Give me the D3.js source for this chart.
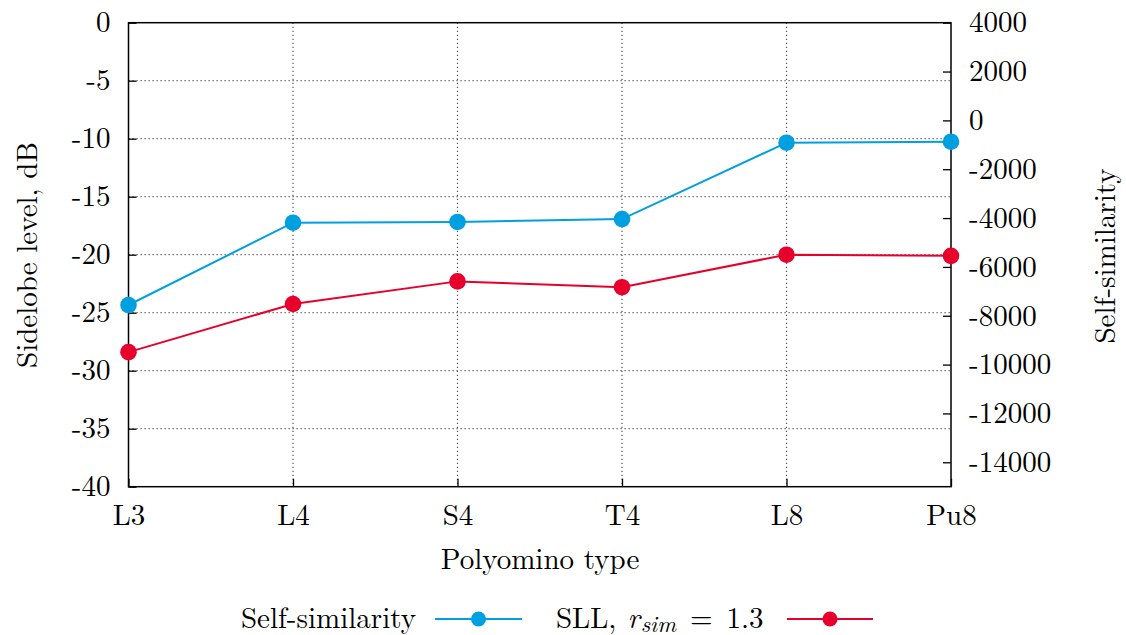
<!DOCTYPE html>
<html>
<head>
<meta charset="utf-8">
<script src="https://cdn.jsdelivr.net/npm/d3@7"></script>
</head>
<body style="margin:0;background:#fff">
<svg id="chart" width="1126" height="635"></svg>
<script>
// Polyomino types along the x axis
const categories = ["L3", "L4", "S4", "T4", "L8", "Pu8"];
// Self-similarity (right axis)
const selfSimilarity = [-7560, -4190, -4160, -4040, -914, -873];
// Sidelobe level in dB, r_sim = 1.3 (left axis)
const sll = [-28.4, -24.25, -22.3, -22.8, -20.0, -20.1];
// Tick values
const leftTicks = [0, -5, -10, -15, -20, -25, -30, -35, -40];
const rightTicks = [4000, 2000, 0, -2000, -4000, -6000, -8000, -10000, -12000, -14000];

const blue = "#009fe0";
const red = "#e6002b";
const FONT = '"Latin Modern Roman", "Liberation Serif", serif';
const fontSize = 29;

const svg = d3.select("#chart");
const m = { left: 128.5, right: 951, top: 22.7, bottom: 486.7 };

const x = d3.scalePoint().domain(categories).range([m.left, m.right]);
const yL = d3.scaleLinear().domain([-40, 0]).range([m.bottom, m.top]);
const yR = d3.scaleLinear().domain([-15000, 4000]).range([m.bottom, m.top]);

function txt(sel) {
  return sel.style("font-family", FONT).style("font-size", fontSize + "px").style("fill", "#000");
}

// dotted grid
const grid = svg.append("g").attr("stroke", "#555").attr("stroke-width", 1.2)
  .attr("stroke-dasharray", "1.2,2.8");
grid.selectAll("line.h").data(leftTicks.filter(d => d > -40 && d < 0)).join("line")
  .attr("x1", m.left).attr("x2", m.right)
  .attr("y1", d => yL(d)).attr("y2", d => yL(d));
grid.selectAll("line.v").data(categories.slice(1, -1)).join("line")
  .attr("x1", d => x(d)).attr("x2", d => x(d))
  .attr("y1", m.top).attr("y2", m.bottom);

// left axis
const axL = svg.append("g").attr("transform", `translate(${m.left},0)`)
  .call(d3.axisLeft(yL).tickValues(leftTicks).tickFormat(d => d === 0 ? "0" : "-" + Math.abs(d))
    .tickSizeInner(-8).tickSizeOuter(0).tickPadding(18));
// right axis
const axR = svg.append("g").attr("transform", `translate(${m.right},0)`)
  .call(d3.axisRight(yR).tickValues(rightTicks).tickFormat(d => d < 0 ? "-" + Math.abs(d) : String(d))
    .tickSizeInner(-8).tickSizeOuter(0).tickPadding(18));
// bottom axis
const axB = svg.append("g").attr("transform", `translate(0,${m.bottom})`)
  .call(d3.axisBottom(x).tickSizeInner(-8).tickSizeOuter(0).tickPadding(18));

[axL, axR, axB].forEach(g => {
  g.select(".domain").remove();
  g.selectAll(".tick line").attr("stroke", "#000").attr("stroke-width", 1.3);
  txt(g.selectAll(".tick text"));
});

// frame
svg.append("rect").attr("x", m.left).attr("y", m.top)
  .attr("width", m.right - m.left).attr("height", m.bottom - m.top)
  .attr("fill", "none").attr("stroke", "#000").attr("stroke-width", 1.5);

// series
function drawSeries(values, yScale, color) {
  const pts = categories.map((c, i) => [x(c), yScale(values[i])]);
  svg.append("path").datum(pts)
    .attr("d", d3.line())
    .attr("fill", "none").attr("stroke", color).attr("stroke-width", 2);
  svg.append("g").selectAll("circle").data(pts).join("circle")
    .attr("cx", d => d[0]).attr("cy", d => d[1]).attr("r", 8.3).attr("fill", color);
}
drawSeries(selfSimilarity, yR, blue);
drawSeries(sll, yL, red);

// axis titles
txt(svg.append("text")).attr("transform", "translate(37,255) rotate(-90)")
  .attr("text-anchor", "middle").text("Sidelobe level, dB");
txt(svg.append("text")).attr("transform", "translate(1115,256) rotate(-90)")
  .attr("text-anchor", "middle").text("Self-similarity");
txt(svg.append("text")).attr("x", 540).attr("y", 569)
  .attr("text-anchor", "middle").text("Polyomino type");

// legend
const legend = svg.append("g");
function legendItem(x0, x1, color) {
  legend.append("line").attr("x1", x0).attr("x2", x1).attr("y1", 619).attr("y2", 619)
    .attr("stroke", color).attr("stroke-width", 2);
  legend.append("circle").attr("cx", (x0 + x1) / 2).attr("cy", 619).attr("r", 7.5).attr("fill", color);
}
txt(legend.append("text")).attr("x", 416).attr("y", 628).attr("text-anchor", "end")
  .text("Self-similarity");
legendItem(435, 522, blue);
const sllLabel = txt(legend.append("text")).attr("x", 556).attr("y", 628).attr("text-anchor", "start");
sllLabel.append("tspan").text("SLL,");
sllLabel.append("tspan").attr("dx", 11).style("font-style", "italic").text("r");
sllLabel.append("tspan").attr("dx", 1).style("font-style", "italic").style("font-size", "23px").attr("dy", 4).text("sim");
sllLabel.append("tspan").attr("dx", 14).attr("dy", -4).text("=");
sllLabel.append("tspan").attr("dx", 14).text("1.3");
legendItem(787, 873, red);
</script>
</body>
</html>
